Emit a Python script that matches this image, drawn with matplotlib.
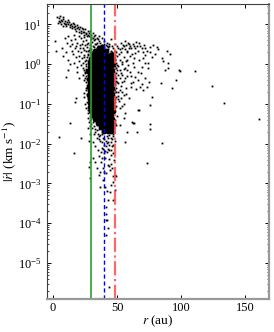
import matplotlib
matplotlib.use("Agg")
import numpy as np
import matplotlib.pyplot as plt
from matplotlib.ticker import LogLocator, NullFormatter

plt.rcParams['font.family'] = ['Liberation Serif', 'DejaVu Serif']
plt.rcParams['mathtext.fontset'] = 'stix'

# reference radii (au)
r_green = 30
r_blue = 40
r_red = 48

# upper branch, r < 36, |rdot| ~ 4-16 km/s
branch = [(3, 15.5), (4.5, 14.5), (5, 12.5), (5.5, 16), (6, 13), (7, 12), (7.5, 15),
          (8, 13.5), (8.5, 11), (9.5, 12), (10, 10.5), (11, 11.5), (11.5, 13), (12, 10),
          (12.5, 11.5), (13.5, 9.5), (14, 10.5), (15, 9), (16, 10), (16.5, 8.5), (17.5, 9),
          (18.5, 8), (19, 9.5), (20, 7.5), (21, 8.5), (22, 7), (22.5, 8), (23.5, 7.5),
          (24.5, 6.5), (25, 7.5), (26, 6.2), (27, 7), (28, 6), (28.5, 6.8), (29.5, 5.5),
          (31, 6), (32, 5), (33, 5.5), (34, 4.6), (35, 4.2), (36, 3.8), (6.5, 10),
          (10.5, 9), (14.5, 8), (18, 7), (21.5, 6.2), (24, 5.5), (26.5, 5.2), (4, 11),
          (9, 10.2), (13, 8.7), (17, 7.6), (20.5, 6.6), (23, 6.3), (25.5, 5.9), (27.5, 5.4),
          (30, 4.9), (31.5, 4.6), (33, 4.3), (5.5, 11.8), (8, 9.4), (15.5, 11), (19.5, 8.8)]

# sparse points inside r_green
inner = [(9, 4.5), (11, 3.5), (12, 5), (13, 2.8), (14, 4), (15, 3.2), (15.5, 1.8), (16, 5.5),
         (17, 2.5), (17.5, 4.2), (18, 1.5), (19, 3.5), (19.5, 2.2), (20, 5), (20.5, 1.2),
         (21, 3), (21.5, 4.5), (22, 2), (22.5, 1.4), (23, 3.8), (23.5, 2.6), (24, 1.7),
         (24.5, 4.8), (25, 3.1), (25.5, 2.1), (26, 1.3), (26, 4), (26.5, 2.7), (27, 1.8),
         (27.5, 3.4), (28, 2.3), (28, 5), (28.5, 1.5), (29, 3), (29.5, 4.2), (30, 2),
         (30.5, 3.6), (31, 2.8), (32, 4), (33, 3.2), (34, 3.5), (7, 2.5), (8, 1.6), (10, 2),
         (12, 1.3), (13, 1.0), (2, 2.1), (1.5, 3.8), (11.5, 0.7), (16, 1.05), (18.8, 0.87),
         (22, 0.95), (18.8, 0.65), (23.4, 0.54), (24, 0.19), (17.5, 0.115), (13.6, 0.034),
         (5, 0.015), (22, 0.014), (16.7, 0.0058), (28, 0.0026), (31, 0.0043), (29, 0.0014),
         (25, 0.6), (26, 0.35), (20, 0.45), (17.7, 0.14), (10.5, 0.49), (24.8, 0.45),
         (25, 1.2), (26, 0.9), (25.5, 0.5), (26.5, 0.3), (24.5, 0.15), (26, 0.08),
         (27, 0.045), (25, 0.65), (26.8, 0.18), (23.5, 0.8), (27, 0.025), (28, 0.012),
         (24, 1.5), (29, 0.018), (28.5, 0.0035), (21, 2.5), (23, 1.1), (24.5, 2.3),
         (26.5, 3.3), (27.5, 2.2), (29, 2.6), (20, 1.6), (18, 2.9), (15, 2.2), (22.5, 3.2)]

# dense core of the distribution
core = [(35.5, 2.6), (38.5, 2.65),
        (32.5, 2.1), (35.5, 2.15), (38.5, 2.05), (41.5, 2.1),
        (31, 1.66), (33.5, 1.7), (36.5, 1.62), (39.5, 1.68), (42.5, 1.6), (45, 1.7),
        (29.8, 1.32), (32, 1.3), (35, 1.35), (38, 1.28), (41, 1.33), (44, 1.3), (46.5, 1.35),
        (28.5, 1.05), (31, 1.03), (34, 1.07), (37, 1.04), (40, 1.06), (43, 1.02), (46, 1.05),
        (28.5, 0.83), (31.5, 0.85), (34.5, 0.81), (37.5, 0.84), (40.5, 0.82), (43.5, 0.85), (46.7, 0.83),
        (27.6, 0.66), (31, 0.67), (34, 0.65), (37, 0.66), (40, 0.68), (43, 0.65), (46, 0.66),
        (28.5, 0.525), (31.5, 0.53), (34.5, 0.52), (37.5, 0.54), (40.5, 0.52), (43.5, 0.53), (46.5, 0.52),
        (27.8, 0.417), (31, 0.42), (34, 0.41), (37, 0.42), (40, 0.415), (43, 0.42), (46.2, 0.41),
        (28.5, 0.331), (31.5, 0.335), (34.5, 0.33), (37.5, 0.33), (40.5, 0.335), (43.5, 0.33), (46.5, 0.332),
        (28, 0.263), (31, 0.265), (34, 0.26), (37, 0.266), (40, 0.262), (43, 0.264), (46, 0.26),
        (28.5, 0.209), (31.5, 0.21), (34.5, 0.207), (37.5, 0.21), (40.5, 0.208), (43.5, 0.21), (46.5, 0.209),
        (28, 0.166), (31, 0.168), (34, 0.165), (37, 0.167), (40, 0.166), (43, 0.165), (46, 0.167),
        (28.5, 0.132), (31.5, 0.133), (34.5, 0.131), (37.5, 0.132), (40.5, 0.134), (43.5, 0.131), (46.5, 0.132),
        (28.5, 0.105), (31, 0.106), (34, 0.104), (37, 0.105), (40, 0.106), (43, 0.104), (46, 0.105),
        (29, 0.083), (31.5, 0.084), (34.5, 0.082), (37.5, 0.083), (40.5, 0.084), (43.5, 0.083), (46.5, 0.083),
        (30, 0.066), (32.5, 0.067), (35, 0.065), (38, 0.066), (41, 0.066), (44, 0.065), (46.5, 0.066),
        (31, 0.0525), (33.5, 0.053), (36, 0.052), (39, 0.0525), (42, 0.053), (45, 0.052),
        (33, 0.0417), (35.5, 0.042), (38, 0.0415), (40.5, 0.042), (43, 0.0417), (46, 0.042),
        (35, 0.0331), (38, 0.0335), (41, 0.033), (44, 0.0333), (46.5, 0.0331),
        (37.5, 0.0263), (40.5, 0.0265), (43.5, 0.026), (46, 0.0264),
        (40, 0.0209), (43, 0.021), (45.5, 0.0208)]

# speckled edge of the core
edge = [(26.5, 1.5), (27, 1.2), (26, 0.75), (27, 0.55), (26.5, 0.42), (27, 0.28), (26, 0.22),
        (27, 0.14), (26.5, 0.11), (27.5, 0.07), (27, 0.06), (28, 0.035), (28.5, 0.028),
        (29, 0.04), (25.5, 0.25), (24.5, 0.4), (25, 0.1), (24, 0.7), (25.5, 1.0), (28.5, 0.05),
        (29.5, 0.045), (30, 0.032), (31.5, 0.035), (32, 0.028), (33, 0.024), (34, 0.03),
        (29, 2.0), (30, 2.4), (31, 2.2), (32, 2.7), (34, 2.5), (35, 2.9), (37, 2.6), (38, 3.1),
        (40, 2.5), (41, 3.0), (43, 2.4), (44, 2.8), (45, 2.2), (46, 2.0), (47, 1.9), (48, 1.7),
        (49, 2.0), (29.5, 1.6), (28.5, 1.45), (47.5, 1.45), (27.5, 1.75), (30.5, 1.95),
        (44.5, 1.95), (46.5, 1.6), (48.5, 1.3), (49, 0.8), (49, 0.45), (49.5, 0.25),
        (49, 0.15), (49.5, 0.09), (50, 0.05), (50.5, 0.55), (51, 0.33), (51, 0.16), (52, 0.22),
        (52, 0.08), (53, 0.6), (53, 0.14), (54, 0.35), (54, 0.2), (55, 0.75), (55, 0.1),
        (56, 0.45), (57, 0.18), (48.5, 0.04), (49.5, 0.03), (48.5, 0.6), (50, 0.95),
        (51.5, 1.8), (53.5, 1.15), (48.5, 0.11), (48.5, 0.3), (49.5, 0.38), (50, 0.7),
        (48.5, 1.0), (49, 0.2), (50.5, 0.13), (33, 0.02), (35, 0.018), (36, 0.013),
        (38, 0.011), (39, 0.014), (40, 0.0095), (41, 0.012), (42, 0.0105), (43, 0.014),
        (44, 0.0095), (45, 0.011), (46, 0.013), (47, 0.0095), (46.5, 0.018), (34.5, 0.022),
        (36.5, 0.0165), (44, 0.017), (42.5, 0.0075), (40.5, 0.0065), (45.5, 0.0068),
        (39, 0.0075), (37.5, 0.0062), (36, 0.024), (38.5, 0.02), (47.5, 0.025), (47, 0.045),
        (33.5, 3.2), (36.5, 3.4), (39.5, 3.3), (42, 2.9), (28, 1.25), (28.5, 0.95)]

# points scattered outside r_red, mostly the outward tail
outer = [(48.5, 2.2), (49, 1.1), (49.5, 0.6), (50, 0.35), (50, 1.6), (50.5, 0.2), (51, 2.6),
         (51, 0.9), (51.5, 0.12), (52, 0.45), (52, 1.3), (52.5, 0.7), (53, 2), (53, 0.28),
         (53.5, 0.09), (54, 1.0), (54, 0.55), (54.5, 3), (55, 1.5), (55, 0.17), (55.5, 0.38),
         (56, 0.8), (56, 2.4), (56.5, 0.06), (57, 1.2), (57, 0.25), (57.5, 0.5), (58, 2),
         (58.5, 0.95), (59, 0.14), (59, 3.2), (60, 0.65), (60, 1.6), (60.5, 0.33), (61, 2.5),
         (61, 0.27), (62, 1.1), (62.5, 0.36), (63, 0.034), (63, 2.8), (64, 0.49), (64, 1.9),
         (65, 0.245), (65, 3.6), (65.6, 0.02), (66.4, 0.64), (66.4, 0.072), (67, 3.5),
         (67, 1.3), (68, 0.26), (69, 0.87), (69, 0.32), (70, 1.4), (70, 0.23), (71.6, 1.05),
         (71.6, 0.44), (72, 2.5), (73, 0.26), (74, 0.79), (74, 1.05), (75, 0.35), (75.5, 2.7),
         (75.5, 0.032), (76, 0.093), (77, 1.55), (77, 0.15), (78, 3.0), (79.5, 1.86),
         (80.8, 2.75), (82, 2.4), (84, 0.33), (85, 1.4), (85.7, 1.2), (87, 0.71), (89, 2.2),
         (89.6, 1.05), (90, 0.79), (91, 1.86), (92.5, 0.25), (96, 0.40), (98, 0.71),
         (99, 0.69), (111, 0.69), (124, 0.28), (133, 0.107), (160.7, 0.042), (85, 0.0104),
         (73, 0.0032), (75.5, 0.023), (62, 0.034), (67, 0.072), (61.7, 0.035), (58, 0.02),
         (55, 0.045), (52, 0.03), (56, 0.011), (36, 5), (38, 4.5), (40, 3.8), (42, 3.5),
         (44, 3.2), (46, 2.9), (48, 3.2), (50, 2.8), (53, 3.4), (56, 3.8), (58.6, 3.4),
         (45, 4.2), (39, 2.9), (43, 2.7), (47, 2.5), (52, 2.4), (55, 2.9), (57, 3.0),
         (60, 2.8), (62, 3.3), (64, 2.6), (66, 2.2), (68, 2.9), (70, 2.0), (72, 1.7),
         (63, 1.4), (58, 1.3), (54, 2.6), (57.5, 2.2), (59.5, 2.5), (61.5, 1.8), (65.5, 2.9),
         (69, 2.5), (71, 3.1), (73.5, 2.2), (76, 2.0), (58, 0.7), (61, 0.5), (63.5, 0.85),
         (66, 0.4), (68.5, 0.6)]

# low tail under the core
low = [(31, 0.011), (33, 0.009), (34, 0.014), (35, 0.007), (35.5, 0.016), (36, 0.005),
       (37, 0.012), (37.5, 0.0035), (38, 0.008), (38.5, 0.018), (39, 0.0025), (39.5, 0.006),
       (40, 0.013), (40.5, 0.0045), (41, 0.009), (41.5, 0.0018), (42, 0.016), (42, 0.0063),
       (42.5, 0.003), (43, 0.011), (43.5, 0.0041), (44, 0.007), (44.5, 0.0022), (45, 0.014),
       (45, 0.0052), (45.5, 0.0031), (46, 0.009), (46.5, 0.0015), (46.7, 0.0011), (47, 0.006),
       (47.5, 0.0038), (48, 0.0016), (48, 0.012), (49.5, 0.0015), (34, 0.0025), (36.5, 0.0008),
       (42, 0.00063), (40.5, 0.00081), (43, 0.00038), (47, 0.00038), (41, 0.00026),
       (41.7, 0.000166), (41.7, 0.000123), (42, 0.00012), (43, 7.4e-5), (41.7, 5e-5),
       (43.8, 2.5e-6), (38, 0.0045), (44, 0.0027), (39, 0.0012), (45, 0.0009), (37, 0.002),
       (40, 0.0019), (46, 0.0024), (48.5, 0.0007), (44.5, 0.0006), (36, 0.0016), (33, 0.0035),
       (47.5, 0.02), (48.5, 0.03), (30.5, 0.025), (32, 0.018), (47, 0.016)]

fig = plt.figure(figsize=(2.74, 3.32), dpi=100)
ax = fig.add_axes([0.170, 0.099, 0.810, 0.889])

for pts in (branch, inner, edge, outer, low):
    r, v = np.array(pts).T
    ax.plot(r, v, 's', color='k', ms=1.3, mew=0)
r, v = np.array(core).T
ax.plot(r, v, 'o', color='k', ms=4.2, mew=0)

ax.axvline(r_green, color='#2ca02c', lw=1.2)
ax.axvline(r_blue, color='blue', lw=1.0, ls='--', dashes=(3, 2))
ax.axvline(r_red, color='#ff4d4d', lw=1.6, ls='-.', alpha=0.85)

ax.set_yscale('log')
ax.set_xlim(-5, 168)
ax.set_ylim(1.23e-6, 32.8)
ax.set_xticks([0, 50, 100, 150])
ax.set_yticks([1e-5, 1e-4, 1e-3, 1e-2, 1e-1, 1, 10])
ax.yaxis.set_minor_locator(LogLocator(base=10, subs=np.arange(2, 10), numticks=20))
ax.yaxis.set_minor_formatter(NullFormatter())
ax.tick_params(which='both', direction='in', top=True, right=True, labelsize=9)
ax.tick_params(which='major', length=3, width=0.7)
ax.tick_params(which='minor', length=1.5, width=0.5)
ax.tick_params(axis='x', pad=2)

for side in ('left', 'top'):
    ax.spines[side].set_color('0.25')
    ax.spines[side].set_linewidth(0.8)
for side in ('bottom', 'right'):
    ax.spines[side].set_color('0.6')
    ax.spines[side].set_linewidth(1.6)

ax.set_xlabel(r'$r$ (au)', fontsize=9.5)
ax.set_ylabel(r'$|\dot{r}|$ (km s$^{-1}$)', fontsize=9.5)
ax.xaxis.set_label_coords(0.5, -0.05)
ax.yaxis.set_label_coords(-0.13, 0.5)

fig.savefig('out.png', dpi=100)
